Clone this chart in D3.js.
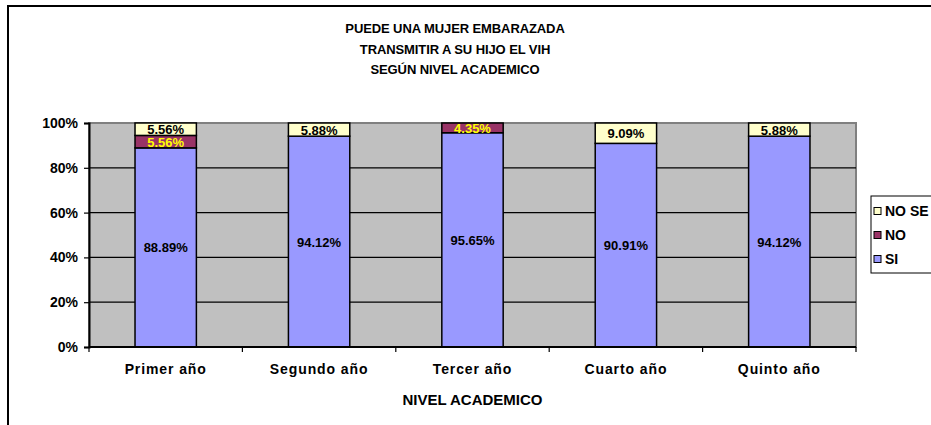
<!DOCTYPE html>
<html>
<head>
<meta charset="utf-8">
<script src="https://cdn.jsdelivr.net/npm/d3@7"></script>
<style>
  body { margin: 0; background: #fff; }
  text { font-family: "Liberation Sans", Arial, sans-serif; font-weight: bold; }
</style>
</head>
<body>
<svg id="chart" width="931" height="425"></svg>
<script>
const categories = ["Primer año", "Segundo año", "Tercer año", "Cuarto año", "Quinto año"];
const si = [88.89, 94.12, 95.65, 90.91, 94.12];
const no = [5.56, 0, 4.35, 0, 0];
const noSe = [5.56, 5.88, 0, 9.09, 5.88];
const yTicks = [0, 20, 40, 60, 80, 100];
const titleLines = ["PUEDE UNA MUJER EMBARAZADA", "TRANSMITIR A SU HIJO EL VIH", "SEGÚN NIVEL ACADEMICO"];

const series = [
    { name: "SI", values: si, color: "#9999FF", labelColor: "#000" },
    { name: "NO", values: no, color: "#993366", labelColor: "#FFFF00" },
    { name: "NO SE", values: noSe, color: "#FFFFCC", labelColor: "#000" }
];

const svg = d3.select("#chart");
const plot = { left: 89, top: 123, right: 856, bottom: 347 };

// chart frame (only left and top edges show in the picture)
svg.append("path")
    .attr("d", "M8,425 L8,6 L931,6")
    .attr("fill", "none")
    .attr("stroke", "#000")
    .attr("stroke-width", 2);

// title
svg.append("g")
    .selectAll("text")
    .data(titleLines)
    .join("text")
    .attr("x", 455)
    .attr("y", (d, i) => 33 + i * 20.5)
    .attr("text-anchor", "middle")
    .attr("font-size", 13)
    .attr("letter-spacing", -0.1)
    .text(d => d);

const x = d3.scaleBand()
    .domain(categories)
    .range([plot.left, plot.right])
    .paddingInner(0.6)
    .paddingOuter(0.3);

const y = d3.scaleLinear()
    .domain([0, 100])
    .range([plot.bottom, plot.top]);

// plot background
svg.append("rect")
    .attr("x", plot.left)
    .attr("y", plot.top)
    .attr("width", plot.right - plot.left)
    .attr("height", plot.bottom - plot.top)
    .attr("fill", "#C0C0C0")
    .attr("stroke", "#808080")
    .attr("stroke-width", 2);

// gridlines
svg.append("g")
    .selectAll("line")
    .data(yTicks.filter(d => d > 0 && d < 100))
    .join("line")
    .attr("x1", plot.left)
    .attr("x2", plot.right)
    .attr("y1", d => y(d))
    .attr("y2", d => y(d))
    .attr("stroke", "#000")
    .attr("stroke-width", 1.2);

// stacked bars
const stackData = categories.map((c, i) => {
    const row = { cat: c };
    series.forEach(s => row[s.name] = s.values[i]);
    return row;
});
const stacked = d3.stack().keys(series.map(s => s.name))(stackData);

stacked.forEach((layer, li) => {
    const s = series[li];
    svg.append("g")
        .selectAll("rect")
        .data(layer.filter(d => d[1] - d[0] > 0))
        .join("rect")
        .attr("x", d => x(d.data.cat))
        .attr("width", x.bandwidth())
        .attr("y", d => y(d[1]))
        .attr("height", d => y(d[0]) - y(d[1]))
        .attr("fill", s.color)
        .attr("stroke", "#000")
        .attr("stroke-width", 1.5);
});

// value labels
stacked.forEach((layer, li) => {
    const s = series[li];
    svg.append("g")
        .selectAll("text")
        .data(layer.filter(d => d[1] - d[0] > 0))
        .join("text")
        .attr("x", d => x(d.data.cat) + x.bandwidth() / 2)
        .attr("y", d => (y(d[0]) + y(d[1])) / 2 + 5)
        .attr("text-anchor", "middle")
        .attr("font-size", 13)
        .attr("fill", s.labelColor)
        .text(d => (d[1] - d[0]).toFixed(2) + "%");
});

// y axis
const yAxis = svg.append("g")
    .attr("transform", `translate(${plot.left},0)`)
    .call(d3.axisLeft(y).tickValues(yTicks).tickFormat(d => d + "%").tickSize(5).tickPadding(6));
yAxis.select(".domain").attr("stroke", "#000").attr("stroke-width", 2);
yAxis.selectAll(".tick line").attr("stroke", "#000").attr("stroke-width", 1.2);
yAxis.selectAll(".tick text")
    .attr("font-size", 14)
    .attr("font-family", "Liberation Sans, Arial, sans-serif")
    .attr("font-weight", "bold")
    .attr("fill", "#000");

// x axis: ticks between categories
const xAxis = svg.append("g");
const bounds = d3.range(categories.length + 1).map(i => plot.left + i * (plot.right - plot.left) / categories.length);
xAxis.append("line")
    .attr("x1", plot.left).attr("x2", plot.right)
    .attr("y1", plot.bottom).attr("y2", plot.bottom)
    .attr("stroke", "#000").attr("stroke-width", 2);
xAxis.selectAll(".tk")
    .data(bounds)
    .join("line")
    .attr("class", "tk")
    .attr("x1", d => d).attr("x2", d => d)
    .attr("y1", plot.bottom).attr("y2", plot.bottom + 5)
    .attr("stroke", "#000").attr("stroke-width", 1.2);
xAxis.selectAll(".lbl")
    .data(categories)
    .join("text")
    .attr("class", "lbl")
    .attr("x", d => x(d) + x.bandwidth() / 2)
    .attr("y", 374)
    .attr("text-anchor", "middle")
    .attr("font-size", 14)
    .attr("letter-spacing", 0.9)
    .text(d => d);

// x axis title
svg.append("text")
    .attr("x", (plot.left + plot.right) / 2)
    .attr("y", 405)
    .attr("text-anchor", "middle")
    .attr("font-size", 15)
    .attr("letter-spacing", 0)
    .text("NIVEL ACADEMICO");

// legend
const legend = svg.append("g").attr("transform", "translate(871,196)");
legend.append("rect")
    .attr("width", 80)
    .attr("height", 77)
    .attr("fill", "#fff")
    .attr("stroke", "#000")
    .attr("stroke-width", 1);
const legendItems = series.slice().reverse();
const li = legend.selectAll(".item")
    .data(legendItems)
    .join("g")
    .attr("class", "item")
    .attr("transform", (d, i) => `translate(3,${15 + i * 24})`);
li.append("rect")
    .attr("x", 0).attr("y", -3.5)
    .attr("width", 7).attr("height", 7)
    .attr("fill", d => d.color)
    .attr("stroke", "#000")
    .attr("stroke-width", 1);
li.append("text")
    .attr("x", 11)
    .attr("y", 5)
    .attr("font-size", 14)
    .text(d => d.name);
</script>
</body>
</html>
